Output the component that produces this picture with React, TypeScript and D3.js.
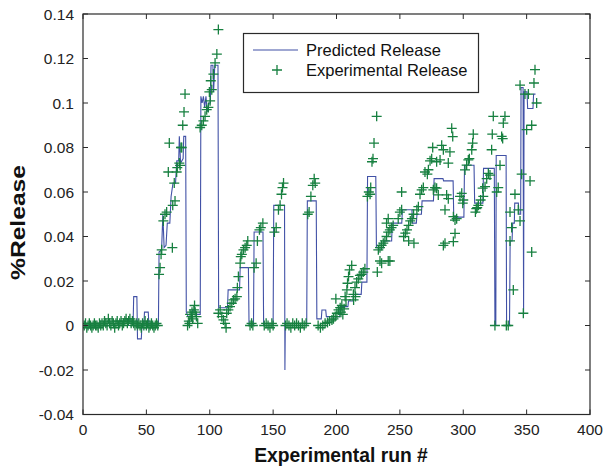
import React from "react";
import * as d3 from "d3";

// Tick values
const xTicks = [0, 50, 100, 150, 200, 250, 300, 350, 400];
const yTicks = [-0.04, -0.02, 0, 0.02, 0.04, 0.06, 0.08, 0.1, 0.12, 0.14];

// Predicted release: [run #, %release] vertices of the step-like curve
const predictedRelease: [number, number][] = [
  [0, 0], [39.5, 0], [40, 0.013], [42.5, 0.013], [43, -0.006], [46, -0.006], [46.5, 0], [48, 0],
  [48.5, 0.006], [51.5, 0.006], [52, 0], [59.5, 0], [60, 0.033], [62, 0.034], [63, 0.05], [64, 0.035],
  [65.5, 0.036], [66.5, 0.046], [68.5, 0.046], [69.5, 0.058], [71, 0.064], [73, 0.064], [74, 0.074],
  [75.5, 0.074], [76, 0.085], [77, 0.073], [79, 0.075], [79.5, 0.085], [81, 0.085], [81.5, 0.006],
  [83, 0.004], [86, 0.004], [86.5, 0.007], [88.5, 0.007], [89, 0.005], [92.5, 0.005], [93, 0.103],
  [94, 0.1], [95, 0.103], [96, 0.098], [97, 0.103], [98, 0.096], [99.5, 0.1], [100.5, 0.1], [101, 0.117],
  [102.5, 0.117], [103, 0.105], [104, 0.117], [106.5, 0.117], [107, 0.008], [114, 0.008], [114.5, 0.016],
  [123.5, 0.016], [124, 0.026], [130.5, 0.026], [131, 0], [134.5, 0], [135, 0.042], [142, 0.042],
  [142.5, 0], [150, 0], [150.5, 0.054], [159, 0.054], [159.3, -0.02], [159.6, 0], [176.5, 0], [177, 0.056],
  [184, 0.056], [184.5, 0.003], [188, 0.003], [188.5, 0.007], [191.5, 0.007], [192, 0.004], [202.5, 0.004],
  [203, 0.0085], [209, 0.0085], [209.5, 0.011], [213, 0.011], [213.5, 0.014], [219.5, 0.014], [220, 0.0195],
  [224, 0.0195], [224.5, 0.067], [231, 0.067], [231.5, 0.035], [237, 0.035], [237.5, 0.038], [243.5, 0.038],
  [244, 0.046], [251.5, 0.046], [252, 0.052], [259.5, 0.052], [260, 0.046], [263, 0.046], [263.5, 0.05],
  [267, 0.05], [267.5, 0.056], [276.5, 0.056], [277, 0.066], [284, 0.066], [284.5, 0.065], [292, 0.065],
  [292.5, 0.0487], [300.5, 0.0487], [301, 0.072], [308.5, 0.072], [309, 0.055], [315.5, 0.055], [316, 0.0706],
  [324.5, 0.0706], [325, 0], [325.7, 0], [326, 0.0764], [333.8, 0.0764], [334.2, 0], [336.5, 0], [337, 0.038],
  [338.5, 0.038], [339, 0.046], [340.3, 0.046], [340.6, 0.055], [343.5, 0.055], [344, 0.05], [345.3, 0.05],
  [345.6, 0.107], [347.2, 0.107], [347.6, 0.005], [348, 0.105], [350.3, 0.105], [350.8, 0.0975], [355, 0.0975],
  [355.5, 0.104], [357, 0.104],
];

// Experimental release: [run #, %release]
const experimentalRelease: [number, number][] = [
  [1, 0], [2, 0.001], [3, -0.001], [4, 0], [5, 0.001], [6, 0], [7, -0.001], [8, 0], [9, 0.001], [10, 0],
  [11, 0], [12, -0.001], [13, 0.001], [14, 0], [15, 0.001], [16, 0], [17, 0.002], [18, 0.001], [19, 0],
  [20, 0.003], [21, 0.001], [22, 0], [23, 0.002], [24, 0.001], [25, -0.001], [26, 0.001], [27, 0.002],
  [28, 0], [29, 0.001], [30, 0.002], [31, 0], [32, 0.001], [33, 0.002], [34, 0.003], [35, 0.001], [36, 0.002],
  [37, 0.003], [38, 0.001], [39, 0.002], [40, 0.001], [41, 0], [42, 0.001], [43, 0], [44, 0.001], [45, 0],
  [46, -0.001], [47, 0.001], [48, 0], [49, 0.002], [50, 0], [51, 0.001], [52, -0.001], [53, 0], [54, 0.001],
  [55, 0], [56, -0.001], [57, 0], [58, 0.001], [59, 0],
  [60, 0.023], [60.8, 0.026], [61.6, 0.032], [62.1, 0.034], [63.4, 0.047], [64.7, 0.05], [66, 0.051],
  [67.3, 0.069], [68.1, 0.082], [70.5, 0.035], [70.8, 0.054], [72, 0.064], [72.6, 0.056], [73.9, 0.069],
  [74.4, 0.071], [76, 0.073], [76.6, 0.072], [77.3, 0.08], [77.9, 0.08], [78.7, 0.09], [79.7, 0.096], [80.5, 0.104],
  [82.5, 0], [83.5, 0.002], [84, 0.001], [84.5, 0.005], [85.5, 0.004], [86, 0.006], [86.5, 0.003], [87.5, 0.007],
  [88, 0.009], [88.5, 0.006], [89.5, 0.004], [90.5, 0.001],
  [92.4, 0.089], [93.7, 0.09], [95, 0.092], [96.3, 0.094], [97.6, 0.097], [98.9, 0.098], [99.7, 0.105],
  [100.3, 0.101], [100.8, 0.11], [101.6, 0.106], [102.9, 0.113], [104.2, 0.118], [105.6, 0.122], [106.8, 0.133],
  [106.8, 0.0055], [108.2, 0.007], [109.5, 0.004], [110.8, 0.0025], [112.1, 0.001], [112.9, -0.001],
  [113.4, 0.0055], [114.7, 0.007], [116, 0.0085], [117.4, 0.01], [118.7, 0.0115], [120, 0.012], [121.4, 0.013],
  [121.8, 0.017], [122.6, 0.022], [124, 0.028], [124.5, 0.031], [125.3, 0.032], [126.6, 0.034], [127.9, 0.035],
  [129.2, 0.036], [130, 0.038],
  [131.8, 0], [133, 0.001], [134, 0],
  [135, 0.026], [136.6, 0.028], [137.6, 0.038], [139.2, 0.043], [140.3, 0.044], [141.9, 0.046],
  [143, 0], [144.5, 0.001], [146, 0], [147.5, -0.001], [149, 0.001], [150, 0],
  [151, 0.042], [152.4, 0.044], [154.2, 0.052], [155.5, 0.054], [156.6, 0.059], [157.4, 0.062], [158.2, 0.064],
  [159.8, 0], [161, 0.001], [162.5, 0], [164, -0.001], [165.5, 0.001], [167, 0], [168.5, 0.001], [170, 0],
  [171.5, -0.001], [173, 0.001], [174.5, 0], [176, 0.001],
  [177.3, 0.05], [178.4, 0.051], [179.8, 0.058], [181.3, 0.063], [182.4, 0.066], [183.2, 0.064],
  [185.5, 0], [187.3, -0.001], [189.2, 0], [191, 0.001], [192.9, 0.0013], [194.5, 0.002], [196.4, 0.0025],
  [197.6, 0.003], [199, 0.004], [199.5, 0.012], [200.3, 0.0055], [201.6, 0.007], [202.9, 0.008], [203.5, 0.006],
  [204.2, 0.009], [205, 0.005], [206, 0.0075],
  [206.8, 0.013], [207.5, 0.0115], [208.2, 0.016], [208.7, 0.019], [209.5, 0.022], [210.3, 0.025], [212, 0.027],
  [213.3, 0.014], [213.5, 0.0115], [214.6, 0.017], [215, 0.013], [215.9, 0.0195], [217.2, 0.021], [218.5, 0.0225],
  [219.8, 0.023], [221.1, 0.024], [222.4, 0.0255],
  [224.4, 0.058], [225.5, 0.06], [226.5, 0.059], [227, 0.062], [228, 0.0736], [228.8, 0.075], [229.6, 0.082],
  [231.7, 0.094], [232.2, 0.024],
  [233, 0.034], [234.3, 0.035], [234.3, 0.029], [235.6, 0.036], [235.6, 0.028], [236.9, 0.037], [238.2, 0.038],
  [239.5, 0.04], [239.5, 0.046], [240.8, 0.042], [240.8, 0.029], [240.8, 0.048], [242.1, 0.043], [242.1, 0.029],
  [243.4, 0.044], [244.7, 0.045], [248.7, 0.048], [250, 0.051], [251.4, 0.052], [251.4, 0.06],
  [253, 0.04], [254.3, 0.0415], [255.6, 0.043], [256.9, 0.045], [256.9, 0.038], [258.2, 0.047], [259.5, 0.048],
  [260.8, 0.05], [261.1, 0.037], [263.4, 0.052], [264.6, 0.0534],
  [265.9, 0.059], [267.2, 0.061], [268.5, 0.062], [269.8, 0.069], [271.7, 0.068], [272.5, 0.07], [273.8, 0.074],
  [275.1, 0.075], [275.9, 0.08],
  [276.4, 0.061], [277.7, 0.062], [279, 0.0617], [279, 0.0736], [280.3, 0.0587], [281.7, 0.0744], [283, 0.081],
  [284.3, 0.079], [284.3, 0.036], [285.6, 0.052], [285.6, 0.037], [286.9, 0.0587], [288.2, 0.057], [288.2, 0.073],
  [289.5, 0.078], [290.9, 0.0886], [291.7, 0.0849], [292.2, 0.0489], [292.2, 0.0377], [293.5, 0.0474],
  [293.5, 0.0414], [294.8, 0.048], [297.4, 0.058], [298.8, 0.0594], [299.6, 0.055], [300, 0.0564],
  [301.4, 0.0699], [302.7, 0.0721], [304, 0.0744], [304.8, 0.075],
  [306.7, 0.079], [307.4, 0.082], [307.9, 0.086], [309.6, 0.051], [310.3, 0.0525], [311, 0.053], [311.9, 0.054],
  [313.7, 0.0564], [315.3, 0.0617], [315.8, 0.058], [317.2, 0.0624], [318.5, 0.066], [319.8, 0.0684],
  [321.1, 0.0676], [322.4, 0.079], [322.9, 0.086], [323.7, 0.094], [325, 0], [326.4, 0.06], [327.6, 0.062],
  [329, 0.072], [330.3, 0.085], [331.1, 0.084], [331.6, 0.091], [332.9, 0.094], [334, 0], [335.5, 0],
  [336.9, 0.038], [336.9, 0.051], [338.2, 0.044], [339.5, 0.016], [340.8, 0.059], [343.4, 0.052], [344.8, 0.047],
  [344.8, 0.108], [346.1, 0.068], [347.4, 0.0055], [348.7, 0.104], [350, 0.088], [351.4, 0.104], [352.7, 0.065],
  [354, 0.09], [354, 0.033], [355.8, 0.109], [356.6, 0.115], [357.9, 0.1],
];

const legendLabels = ["Predicted Release", "Experimental Release"];

const W = 612;
const H = 470;
const LINE_COLOR = "#4151A6";
const MARK_COLOR = "#178040";
const AXIS_COLOR = "#2a2a2a";
const FONT = "'Liberation Sans', Arial, Helvetica, sans-serif";

function fmtY(v: number): string {
  const r = Math.round(v * 100) / 100;
  return String(r);
}

export default function App() {
  const x = d3.scaleLinear().domain([0, 400]).range([83, 590]);
  const y = d3.scaleLinear().domain([-0.04, 0.14]).range([414.5, 14]);
  const [x0, x1] = x.range();
  const [yb, yt] = y.range();

  const line = d3
    .line<[number, number]>()
    .x((d) => x(d[0]))
    .y((d) => y(d[1]));

  const tickLen = 5;
  const arm = 5;

  const plus = (cx: number, cy: number, key: React.Key) => (
    <path
      key={key}
      d={`M${cx - arm},${cy}H${cx + arm}M${cx},${cy - arm}V${cy + arm}`}
      stroke={MARK_COLOR}
      strokeWidth={1.3}
      fill="none"
    />
  );

  return (
    <svg
      width={W}
      height={H}
      viewBox={`0 0 ${W} ${H}`}
      style={{ position: "absolute", left: 0, top: 0, background: "#fff" }}
    >
      <rect x={0} y={0} width={W} height={H} fill="#fff" />
      <defs>
        <clipPath id="plotClip">
          <rect x={x0} y={yt} width={x1 - x0} height={yb - yt} />
        </clipPath>
      </defs>

      {/* data */}
      <g clipPath="url(#plotClip)">
        <path d={line(predictedRelease) || ""} fill="none" stroke={LINE_COLOR} strokeWidth={1.1} />
        {experimentalRelease.map((d, i) => plus(x(d[0]), y(d[1]), i))}
      </g>

      {/* frame */}
      <rect x={x0} y={yt} width={x1 - x0} height={yb - yt} fill="none" stroke={AXIS_COLOR} strokeWidth={1.2} />

      {/* x ticks */}
      {xTicks.map((t) => (
        <g key={`xt${t}`}>
          <line x1={x(t)} x2={x(t)} y1={yb} y2={yb - tickLen} stroke={AXIS_COLOR} strokeWidth={1} />
          <line x1={x(t)} x2={x(t)} y1={yt} y2={yt + tickLen} stroke={AXIS_COLOR} strokeWidth={1} />
          <text
            x={x(t)}
            y={434.5}
            textAnchor="middle"
            fontFamily={FONT}
            fontSize={15.5}
            fill="#222"
          >
            {t}
          </text>
        </g>
      ))}

      {/* y ticks */}
      {yTicks.map((t) => (
        <g key={`yt${t}`}>
          <line x1={x0} x2={x0 + tickLen} y1={y(t)} y2={y(t)} stroke={AXIS_COLOR} strokeWidth={1} />
          <line x1={x1} x2={x1 - tickLen} y1={y(t)} y2={y(t)} stroke={AXIS_COLOR} strokeWidth={1} />
          <text
            x={74}
            y={y(t) + 5.5}
            textAnchor="end"
            fontFamily={FONT}
            fontSize={15.5}
            fill="#222"
          >
            {fmtY(t)}
          </text>
        </g>
      ))}

      {/* axis labels */}
      <text
        x={341}
        y={461.5}
        textAnchor="middle"
        fontFamily={FONT}
        fontWeight="bold"
        fontSize={19.3}
        fill="#111"
      >
        Experimental run #
      </text>
      <text
        transform={`translate(25,222.5) rotate(-90)`}
        textAnchor="middle"
        fontFamily={FONT}
        fontWeight="bold"
        fontSize={20}
        fill="#111"
        textLength={115}
        lengthAdjust="spacingAndGlyphs"
      >
        %Release
      </text>

      {/* legend */}
      <g>
        <rect x={243.5} y={33.5} width={235} height={59} fill="#fff" stroke={AXIS_COLOR} strokeWidth={1.2} />
        <line x1={253} x2={298} y1={50} y2={50} stroke={LINE_COLOR} strokeWidth={1.1} />
        {plus(277, 70, "legplus")}
        <text x={306} y={55.5} fontFamily={FONT} fontSize={16.5} fill="#111">
          {legendLabels[0]}
        </text>
        <text x={306} y={75.5} fontFamily={FONT} fontSize={16.5} fill="#111">
          {legendLabels[1]}
        </text>
      </g>
    </svg>
  );
}
